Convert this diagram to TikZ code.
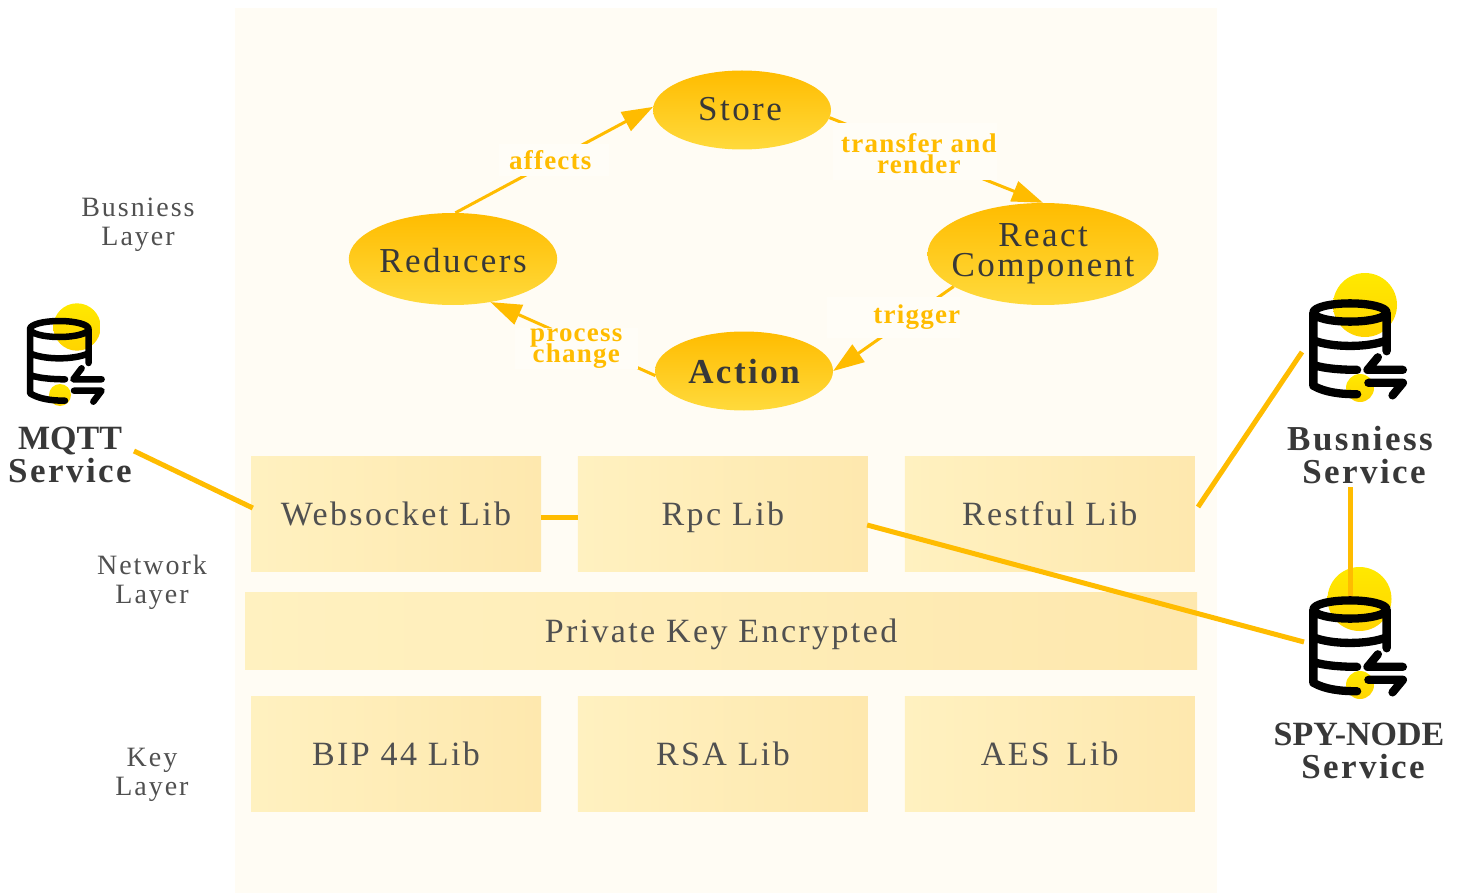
\documentclass[tikz,border=0pt]{standalone}
\usepackage{fontspec}
\setmainfont[LetterSpace=7]{Liberation Serif}
\newfontfamily\tightfont[LetterSpace=4.5]{Liberation Serif}
\newfontfamily\capsfont[LetterSpace=0]{Liberation Serif}
\usetikzlibrary{positioning,shapes.geometric,arrows.meta}
\newcommand\tightlines{\lineskiplimit=-30pt\relax}
\definecolor{panelbg}{HTML}{FFFCF4}
\definecolor{labelbg}{HTML}{FFFDF7}
\definecolor{amber}{HTML}{FFBC00}
\definecolor{amberlow}{HTML}{FFDA3C}
\definecolor{boxleft}{HTML}{FFF1C0}
\definecolor{boxright}{HTML}{FEE8AE}
\definecolor{ink}{HTML}{383838}
\definecolor{greyink}{HTML}{505050}
\definecolor{spottop}{HTML}{FFE900}
\definecolor{spotlow}{HTML}{FFD400}
\tikzset{
	flowstate/.style={ellipse, inner sep=0pt, top color=amber, bottom color=amberlow, text=ink, align=center,
		font=\fontsize{35}{30}\selectfont\tightlines},
	libbox/.style={rectangle, inner sep=0pt, left color=boxleft, right color=boxright, text=greyink,
		minimum width=290pt, minimum height=115pt, text height=26pt, text depth=3pt,
		font=\fontsize{34}{34}\selectfont},
	layertext/.style={text=greyink, align=center, font=\fontsize{28}{29}\selectfont\tightlines},
	servicetext/.style={text=ink, align=center, font=\fontsize{35}{33}\selectfont\bfseries\tightlines},
	edgetext/.style={fill=labelbg, text=amber, align=center, inner sep=0pt,
		font=\fontsize{27}{21}\selectfont\bfseries\tightfont\tightlines},
	flowline/.style={amber, line width=3pt, -{Triangle[length=31pt,width=21pt]}},
	wire/.style={amber, line width=5pt},
	dbicon/.pic={
		\draw[line cap=round, line join=round]
			(0,0) ellipse [x radius=29.3, y radius=8]
			(-29.3,0) -- (-29.3,64.3) .. controls (-20,70) and (-8,71.7) .. (5.7,71.7)
			(29.3,0) -- (29.3,34)
			(-29.3,24.3) .. controls (-15,31) and (15,31) .. (29.3,24.3)
			(-29.3,46) .. controls (-20,49.5) and (-5,50.3) .. (5.7,50.3)
			(42.3,50.3) -- (14,50.3) -- (22.3,39.3)
			(14.7,61.7) -- (42.3,61.7) -- (34,72.7);
	}
}
\begin{document}
\begin{tikzpicture}[x=1pt, y=-1pt]
	\useasboundingbox (0,0) rectangle (1461,893);
	\fill[panelbg] (234.5,8) rectangle (1217,893);

	% flow ellipses
	\node[flowstate, minimum width=178pt, minimum height=79pt, text height=21pt, text depth=0pt] (store) at (742,110) {Store\hspace*{4pt}};
	\node[flowstate, minimum width=208pt, minimum height=92pt, text height=27pt, text depth=0pt] (reducers) at (453,259) {Reducers};
	\node[flowstate, inner xsep=-16pt, minimum width=231pt, minimum height=102pt] (react) at (1043,254) {React\\Component};
	\node[flowstate, minimum width=178pt, minimum height=79pt, text height=25pt, text depth=0pt, font=\fontsize{35}{30}\selectfont\bfseries] (action) at (744,371) {Action};

	\path
	(reducers.87) edge[flowline] node[edgetext, minimum width=110pt, minimum height=32pt, pos=.5] {affects\hspace*{8pt}} (store.178)
	(store.-5) edge[flowline] node[edgetext, minimum width=161pt, minimum height=57pt, pos=.4] {\rule{0pt}{22pt}\hspace*{8pt}transfer and\\\hspace*{8pt}render} (react.north)
	(react.200) edge[flowline] node[edgetext, minimum width=123pt, minimum height=41pt, pos=.48, yshift=10pt, xshift=-2pt] {\hspace*{46pt}trigger} (action.east)
	(action.183) edge[flowline] node[edgetext, minimum width=123pt, minimum height=41pt, pos=.48, yshift=-8pt] {process\\change} (reducers.-49);

	% libs
	\node[libbox] (websocket) at (396,513.5) {Websocket Lib};
	\node[libbox, right=36.5pt of websocket] (rpc) {Rpc Lib};
	\node[libbox, right=36.5pt of rpc] (restful) {Restful Lib};
	\node[libbox, minimum width=952pt, minimum height=77pt] (privatekey) at (721,630.5) {Private Key Encrypted};
	\node[libbox] (bip) at (396,753.5) {BIP 44 Lib};
	\node[libbox, right=36.5pt of bip] (rsa) {RSA Lib};
	\node[libbox, right=36.5pt of rsa] (aes) {AES\hspace{6pt} Lib};

	% layers
	\node[layertext] (bizlayer) at (138,225) {Busniess\\Layer};
	\node[layertext] (netlayer) at (152,582) {Network\\Layer};
	\node[layertext] (keylayer) at (152,775) {Key\\Layer};

	% spots behind icons
	\foreach \spotx/\spoty/\spotr in {77/327/23.7, 60/395/11, 1365/305/32, 1360/388/14, 1359.5/599/32, 1360/685/14}
		\shade[top color=spottop, bottom color=spotlow] (\spotx,\spoty) circle [radius=\spotr];

	% services
	\node[servicetext] (mqtt) at (70,455) {{\capsfont\fontsize{34}{33}\selectfont MQTT}\\Service};
	\node[servicetext] (business) at (1360,455) {Busniess\\\hspace*{8pt}Service};
	\node[servicetext] (spynode) at (1359,751) {{\capsfont\fontsize{34}{33}\selectfont SPY-NODE}\\\hspace*{8pt}Service};

	\coordinate (mqttport) at (134,451);
	\coordinate (bizport) at (1302,352);
	\coordinate (spyport) at (1304,642);
	\coordinate (spytop) at (1350,598);

	\draw[wire] (mqttport) -- ([xshift=2pt,yshift=5.5pt]websocket.west);
	\draw[wire] ([yshift=-3.5pt]websocket.east) -- ([yshift=-3.5pt]rpc.west);
	\draw[wire] ([xshift=-1pt,yshift=-11.5pt]rpc.east) -- (spyport);
	\draw[wire] ([xshift=3pt,yshift=6.5pt]restful.east) -- (bizport);
	\draw[wire] ([xshift=-10pt]business.south) -- (spytop);

	\pic[scale=1, line width=6.5pt] at (59.3,329) {dbicon};
	\pic[xscale=1.25, yscale=1.14, line width=8.3pt] at (1350,312.5) {dbicon};
	\pic[xscale=1.25, yscale=1.14, line width=8.3pt] at (1350,609.5) {dbicon};
\end{tikzpicture}
\end{document}
